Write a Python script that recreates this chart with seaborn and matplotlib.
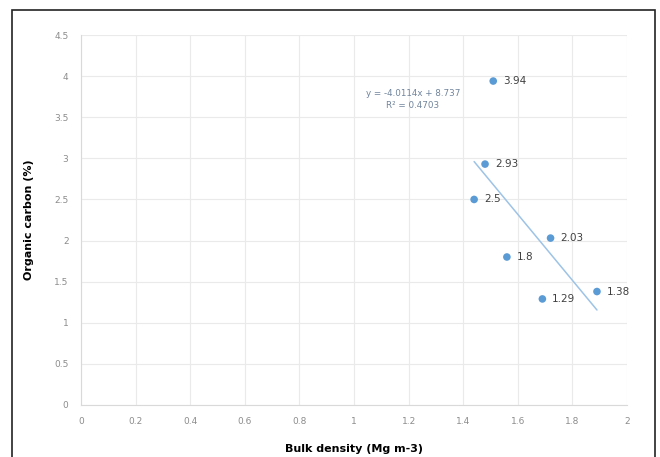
import matplotlib
matplotlib.use("Agg")
import matplotlib.pyplot as plt
import seaborn as sns
import pandas as pd
import numpy as np
from matplotlib.patches import Rectangle

bulk_density = [1.51, 1.48, 1.44, 1.56, 1.72, 1.69, 1.89]
organic_carbon = [3.94, 2.93, 2.5, 1.8, 2.03, 1.29, 1.38]
point_labels = ["3.94", "2.93", "2.5", "1.8", "2.03", "1.29", "1.38"]
x_ticks = [0, 0.2, 0.4, 0.6, 0.8, 1, 1.2, 1.4, 1.6, 1.8, 2]
x_tick_labels = ["0", "0.2", "0.4", "0.6", "0.8", "1", "1.2", "1.4", "1.6", "1.8", "2"]
y_ticks = [0, 0.5, 1, 1.5, 2, 2.5, 3, 3.5, 4, 4.5]
y_tick_labels = ["0", "0.5", "1", "1.5", "2", "2.5", "3", "3.5", "4", "4.5"]
equation = "y = -4.0114x + 8.737"
r_squared = "R² = 0.4703"

df = pd.DataFrame({"bd": bulk_density, "oc": organic_carbon})

sns.set_theme(style="white")
plt.rcParams['font.family'] = ['DejaVu Sans']

fig = plt.figure(figsize=(6.6, 4.57), dpi=100)
ax = fig.add_axes([81/660, 1-405/457, (627-81)/660, (405-35)/457])

blue = "#5B9BD5"
sns.regplot(data=df, x="bd", y="oc", ax=ax, ci=None, truncate=True,
            scatter=False, line_kws=dict(color="#9DC3E6", lw=1.1))
sns.scatterplot(data=df, x="bd", y="oc", ax=ax, color=blue, s=30,
                edgecolor="none", zorder=3)

for xv, yv, lab in zip(bulk_density, organic_carbon, point_labels):
    ax.annotate(lab, (xv, yv), xytext=(7, 0), textcoords="offset points",
                ha="left", va="center", fontsize=7.5, color="#404040")

fig.text(413/660, 1-93/457, equation, ha="center", va="center",
         fontsize=6.3, color="#70849C")
fig.text(413/660, 1-106/457, r_squared, ha="center", va="center",
         fontsize=6.3, color="#70849C")

ax.set_xlim(0, 2)
ax.set_ylim(0, 4.5)
ax.set_xticks(x_ticks)
ax.set_xticklabels(x_tick_labels)
ax.set_yticks(y_ticks)
ax.set_yticklabels(y_tick_labels)
ax.tick_params(axis="both", labelsize=6.5, labelcolor="#8C8C8C", length=0)
ax.tick_params(axis="x", pad=9)
ax.tick_params(axis="y", pad=9)
ax.grid(True, color="#EAEAEA", lw=0.8)
ax.set_axisbelow(True)
for s in ["top", "right"]:
    ax.spines[s].set_visible(False)
for s in ["left", "bottom"]:
    ax.spines[s].set_color("#D9D9D9")
    ax.spines[s].set_linewidth(0.8)

ax.set_xlabel("")
ax.set_ylabel("")
fig.text(354/660, 1-449/457, "Bulk density (Mg m-3)", ha="center", va="center",
         fontsize=8, fontweight="bold", color="black")
fig.text(29/660, 1-220/457, "Organic carbon (%)", ha="center", va="center",
         fontsize=8, fontweight="bold", color="black", rotation=90)

border = Rectangle((12/660, -0.1), (655-12)/660, 1.1 - 10/457, transform=fig.transFigure,
                   fill=False, edgecolor="#222222", lw=1.2)
fig.patches.append(border)

fig.savefig("out.png", dpi=100)
